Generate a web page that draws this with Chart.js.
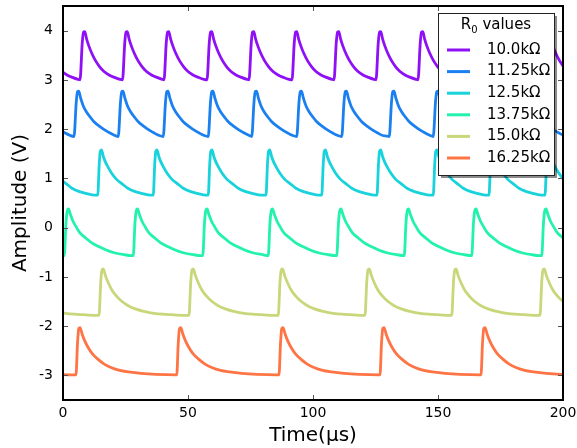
<!DOCTYPE html>
<html>
<head>
<meta charset="utf-8">
<script src="https://cdn.jsdelivr.net/npm/chart.js@4/dist/chart.umd.min.js"></script>
<style>
  body { margin: 0; background: #fff; }
  canvas { display: block; }
</style>
</head>
<body>
<canvas id="chart" width="577" height="448"></canvas>
<script>
// axis ranges and ticks
const xTicks = [0, 50, 100, 150, 200];
const yTicks = [-3, -2, -1, 0, 1, 2, 3, 4];

const seriesLabels = ['10.0kΩ', '11.25kΩ', '12.5kΩ', '13.75kΩ', '15.0kΩ', '16.25kΩ'];
const seriesColors = ['#8f10f5', '#1a80f0', '#18d2dc', '#22f2ae', '#c9d67a', '#ff7444'];

// pulse onset times (µs)
const onsets10 = [-10.0, 6.8, 23.8, 40.4, 57.6, 74.4, 91.6, 108.4, 125.2, 142.0, 158.8, 175.6, 192.4];
const onsets1125 = [-13.5, 4.4, 22.1, 40.1, 58.1, 75.5, 93.5, 111.5, 130.5, 148.1, 166.0, 184.0];
const onsets125 = [-8.4, 13.9, 36.1, 58.1, 81.2, 103.5, 125.6, 148.1, 170.4, 192.8];
const onsets1375 = [-27.0, 0.5, 28.1, 55.9, 82.1, 109.5, 136.5, 163.5, 191.5];
const onsets15 = [-20.9, 14.4, 50.4, 86.1, 120.8, 155.5, 190.8];
const onsets1625 = [-35.3, 5.2, 45.5, 86.4, 126.8, 167.2];

// one pulse of each trace: [time after onset (µs), amplitude (V)]
const pulse10 = [[0, 3.0], [0.9, 3.75], [1.4, 3.97], [1.9, 3.98], [2.6, 3.84], [3.6, 3.68], [4.8, 3.53],
  [6.2, 3.39], [7.8, 3.27], [9.6, 3.17], [11.6, 3.1], [13.8, 3.05], [16.0, 3.01]];
const pulse1125 = [[0, 1.85], [0.9, 2.55], [1.4, 2.76], [1.9, 2.77], [2.6, 2.64], [3.8, 2.46], [5.0, 2.35],
  [6.4, 2.25], [8.0, 2.15], [10.4, 2.05], [12.4, 1.98], [14.4, 1.92], [16.4, 1.87], [18.0, 1.86]];
const pulse125 = [[0, 0.66], [0.6, 1.3], [1.0, 1.55], [1.5, 1.58], [2.2, 1.45], [3.0, 1.34], [4.0, 1.24],
  [5.5, 1.11], [7.5, 0.98], [9.5, 0.9], [12.0, 0.8], [15.0, 0.73], [18.0, 0.69], [21.0, 0.66]];
const pulse1375 = [[0, -0.57], [0.7, 0.1], [1.2, 0.34], [1.7, 0.38], [2.5, 0.26], [3.5, 0.13], [4.6, 0.03],
  [6.2, -0.1], [8.6, -0.21], [11.0, -0.31], [14.0, -0.39], [17.0, -0.46], [20.0, -0.51], [24.0, -0.55], [27.0, -0.57]];
const pulse15 = [[0, -1.78], [0.7, -1.1], [1.2, -0.86], [1.7, -0.84], [2.6, -0.98], [3.8, -1.13], [5.2, -1.27],
  [7.0, -1.39], [9.0, -1.49], [11.5, -1.58], [14.5, -1.65], [18.0, -1.7], [22.0, -1.74], [27.0, -1.76], [33.0, -1.78]];
const pulse1625 = [[0, -2.99], [0.6, -2.35], [1.1, -2.05], [1.6, -2.03], [2.5, -2.17], [3.5, -2.3], [4.8, -2.43],
  [6.5, -2.56], [8.5, -2.66], [11.0, -2.76], [14.0, -2.84], [17.5, -2.9], [21.0, -2.93], [26.0, -2.96], [32.0, -2.98], [40.0, -2.99]];

const allOnsets = [onsets10, onsets1125, onsets125, onsets1375, onsets15, onsets1625];
const allPulses = [pulse10, pulse1125, pulse125, pulse1375, pulse15, pulse1625];

// place the pulse at each onset, cut where the next one starts
function buildTrace(onsets, pulse) {
    const pts = [];
    onsets.forEach((t0, i) => {
        const next = i + 1 < onsets.length ? onsets[i + 1] : Infinity;
        pulse.forEach(([dt, v]) => {
            if (t0 + dt < next) pts.push({ x: t0 + dt, y: v });
        });
    });
    return pts;
}

const datasets = seriesLabels.map((label, i) => ({
    label,
    data: buildTrace(allOnsets[i], allPulses[i]),
    borderColor: seriesColors[i],
    backgroundColor: seriesColors[i],
    borderWidth: 2.8,
    pointRadius: 0,
    cubicInterpolationMode: 'monotone',
    fill: false
}));

const FONT = 'DejaVu Sans';

const framePlugin = {
    id: 'frame',
    afterDatasetsDraw(chart) {
        const { ctx, chartArea: a, scales } = chart;
        ctx.save();
        ctx.strokeStyle = '#555';
        ctx.lineWidth = 1;
        ctx.beginPath();
        xTicks.forEach(v => {
            const px = Math.round(scales.x.getPixelForValue(v)) + 0.5;
            ctx.moveTo(px, a.bottom); ctx.lineTo(px, a.bottom - 5);
            ctx.moveTo(px, a.top); ctx.lineTo(px, a.top + 5);
        });
        yTicks.forEach(v => {
            const py = Math.round(scales.y.getPixelForValue(v)) + 0.5;
            ctx.moveTo(a.left, py); ctx.lineTo(a.left + 5, py);
            ctx.moveTo(a.right, py); ctx.lineTo(a.right - 5, py);
        });
        ctx.stroke();
        ctx.strokeStyle = '#000';
        ctx.lineWidth = 2;
        ctx.strokeRect(a.left, a.top, a.right - a.left, a.bottom - a.top);
        ctx.restore();
    }
};

const legendPlugin = {
    id: 'boxLegend',
    afterDraw(chart) {
        const ctx = chart.ctx;
        const x = 438, y = 13, w = 116, h = 162;
        ctx.save();
        ctx.fillStyle = 'rgba(0,0,0,0.45)';
        ctx.fillRect(x + 3, y + 3, w, h);
        ctx.fillStyle = '#fff';
        ctx.fillRect(x, y, w, h);
        ctx.strokeStyle = '#222';
        ctx.lineWidth = 1;
        ctx.strokeRect(x + 0.5, y + 0.5, w, h);

        // title with subscript
        ctx.fillStyle = '#000';
        ctx.textBaseline = 'middle';
        ctx.font = `15px "${FONT}"`;
        const r = 'R', rest = ' values';
        ctx.font = `15px "${FONT}"`;
        const wr = ctx.measureText(r).width;
        const wrest = ctx.measureText(rest).width;
        ctx.font = `10px "${FONT}"`;
        const wsub = ctx.measureText('0').width;
        let tx = x + w / 2 - (wr + wsub + wrest) / 2;
        const ty = y + 12;
        ctx.font = `15px "${FONT}"`;
        ctx.fillText(r, tx, ty);
        ctx.font = `10px "${FONT}"`;
        ctx.fillText('0', tx + wr, ty + 5);
        ctx.font = `15px "${FONT}"`;
        ctx.fillText(rest, tx + wr + wsub, ty);

        chart.data.datasets.forEach((ds, i) => {
            const ry = y + 37 + i * 21.6;
            ctx.strokeStyle = ds.borderColor;
            ctx.lineWidth = 3;
            ctx.beginPath();
            ctx.moveTo(x + 9, ry);
            ctx.lineTo(x + 32, ry);
            ctx.stroke();
            ctx.fillStyle = '#000';
            ctx.fillText(ds.label, x + 49, ry);
        });
        ctx.restore();
    }
};

new Chart(document.getElementById('chart'), {
    type: 'line',
    data: { datasets },
    options: {
        responsive: false,
        animation: false,
        devicePixelRatio: 1,
        parsing: true,
        layout: { padding: { left: 0, top: 6, right: 14, bottom: 0 } },
        plugins: { legend: { display: false }, tooltip: { enabled: false } },
        scales: {
            x: {
                type: 'linear',
                min: 0,
                max: 200,
                afterBuildTicks: s => { s.ticks = xTicks.map(v => ({ value: v })); },
                afterFit: s => { s.height = 48; s.paddingLeft = 0; s.paddingRight = 0; },
                grid: { display: false, drawTicks: false },
                border: { display: false },
                ticks: { color: '#000', font: { family: FONT, size: 14 }, padding: 5, maxRotation: 0 },
                title: { display: true, text: 'Time(µs)', color: '#000', font: { family: FONT, size: 20 }, padding: 0 }
            },
            y: {
                min: -3.5,
                max: 4.5,
                afterBuildTicks: s => { s.ticks = yTicks.map(v => ({ value: v })); },
                afterFit: s => { s.width = 63; s.paddingTop = 0; s.paddingBottom = 0; },
                grid: { display: false, drawTicks: false },
                border: { display: false },
                ticks: { color: '#000', font: { family: FONT, size: 14 }, padding: 10 },
                title: { display: true, text: 'Amplitude (V)', color: '#000', font: { family: FONT, size: 20 }, padding: { top: 9, bottom: 0 } }
            }
        }
    },
    plugins: [framePlugin, legendPlugin]
});
</script>
</body>
</html>
